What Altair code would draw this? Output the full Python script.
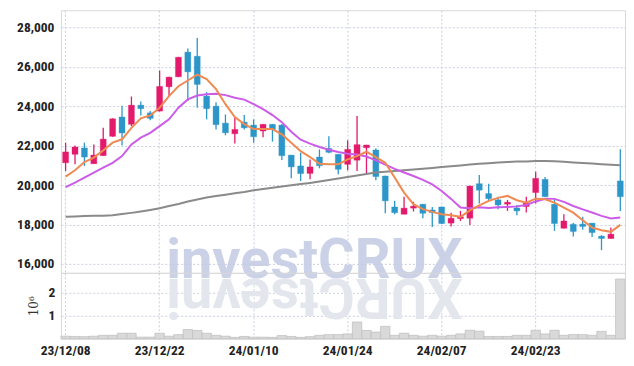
import altair as alt
import pandas as pd

dates = ["23/12/08", "23/12/11", "23/12/12", "23/12/13", "23/12/14", "23/12/15", "23/12/18", "23/12/19", "23/12/20", "23/12/21",
         "23/12/22", "23/12/26", "23/12/27", "23/12/28", "24/01/02", "24/01/03", "24/01/04", "24/01/05", "24/01/08", "24/01/09",
         "24/01/10", "24/01/11", "24/01/12", "24/01/15", "24/01/16", "24/01/17", "24/01/18", "24/01/19", "24/01/22", "24/01/23",
         "24/01/24", "24/01/25", "24/01/26", "24/01/29", "24/01/30", "24/01/31", "24/02/01", "24/02/02", "24/02/05", "24/02/06",
         "24/02/07", "24/02/08", "24/02/13", "24/02/14", "24/02/15", "24/02/16", "24/02/19", "24/02/20", "24/02/21", "24/02/22",
         "24/02/23", "24/02/26", "24/02/27", "24/02/28", "24/02/29", "24/03/04", "24/03/05", "24/03/06", "24/03/07", "24/03/08"]

opens = [21130, 21560, 21880, 21080, 21490, 22470, 23450, 23080, 24050, 23660,
         23750, 24980, 25490, 26740, 26530, 24510, 24000, 23140, 22600, 23190,
         23040, 22740, 23080, 23040, 21520, 20970, 20590, 21420, 21860, 21560,
         21050, 21260, 21890, 21780, 20460, 18890, 18520, 18830, 19030, 18740,
         18890, 18070, 18300, 18320, 20070, 19570, 19250, 19030, 18840, 18910,
         19620, 20290, 19030, 17810, 18020, 18020, 18070, 17410, 17290, 20210]
closes = [21680, 21930, 21420, 21520, 22330, 23360, 22640, 24050, 23870, 23380,
          25000, 25470, 26480, 25740, 25100, 23870, 23060, 22650, 22820, 22900,
          22450, 23080, 22820, 21490, 20920, 20580, 20920, 20980, 21660, 20800,
          21810, 22050, 22030, 20430, 19200, 18600, 18830, 18930, 18570, 18600,
          18050, 18320, 18390, 19950, 19740, 19310, 18990, 19130, 18690, 19100,
          20340, 19410, 18050, 18180, 17640, 17900, 17590, 17290, 17510, 19410]
highs = [22150, 22010, 22150, 22060, 22900, 23380, 24020, 24490, 24240, 23750,
         25810, 25490, 26500, 26920, 27460, 24710, 24200, 23580, 23410, 23550,
         23330, 23090, 23090, 23090, 21530, 21640, 21300, 21810, 22480, 21570,
         22270, 23500, 22040, 21860, 20470, 19200, 19410, 19150, 19040, 18890,
         18900, 18600, 18690, 19960, 20510, 20070, 19410, 19250, 18990, 19410,
         20680, 20410, 19280, 18520, 18080, 18390, 18080, 17460, 17850, 21810]
lows = [20710, 21050, 20970, 21080, 21490, 22450, 22010, 22990, 23530, 23280,
        23730, 24510, 25470, 24260, 23920, 23330, 22820, 22520, 22110, 22820,
        22150, 22430, 22200, 21270, 20340, 20210, 20290, 20850, 21610, 20550,
        20750, 20710, 20530, 20240, 18570, 18520, 18520, 18660, 18320, 17880,
        18030, 17900, 18180, 17980, 19060, 19160, 18780, 18690, 18470, 18610,
        19060, 19400, 17680, 17800, 17390, 17730, 17370, 16700, 17280, 18690]

ma5 = [20430, 20750, 21170, 21390, 21760, 22150, 22320, 22900, 23380, 23530,
       23920, 24510, 25010, 25300, 25600, 25370, 24860, 24100, 23450, 23090,
       22840, 22840, 22840, 22570, 22150, 21720, 21420, 21080, 21050, 21050,
       21300, 21470, 21690, 21420, 21130, 20380, 19620, 19030, 18780, 18640,
       18520, 18470, 18390, 18720, 18970, 19200, 19350, 19450, 19230, 19110,
       19310, 19280, 19110, 18860, 18600, 18220, 17850, 17710, 17630, 17980]
ma20 = [19900, 20120, 20380, 20630, 20880, 21130, 21470, 22060, 22400, 22650,
        22990, 23330, 23920, 24340, 24540, 24600, 24630, 24560, 24430, 24330,
        24100, 23850, 23550, 23190, 22700, 22300, 22100, 21930, 21790, 21680,
        21590, 21550, 21450, 21250, 21040, 20820, 20640, 20460, 20260, 20030,
        19700, 19300, 18860, 18830, 18870, 18840, 18870, 18890, 18920, 18990,
        19170, 19310, 19300, 19150, 18940, 18770, 18610, 18440, 18310, 18350]
ma60 = [18400, 18410, 18430, 18440, 18450, 18470, 18530, 18590, 18660, 18740,
        18830, 18940, 19040, 19170, 19270, 19370, 19450, 19510, 19580, 19650,
        19740, 19800, 19860, 19930, 19990, 20050, 20110, 20180, 20260, 20330,
        20410, 20490, 20560, 20640, 20670, 20710, 20750, 20790, 20830, 20870,
        20910, 20950, 20990, 21040, 21080, 21110, 21140, 21170, 21190, 21200,
        21220, 21220, 21210, 21180, 21150, 21120, 21090, 21060, 21030, 21000]

volume = [0.11, 0.10, 0.09, 0.11, 0.15, 0.15, 0.24, 0.24, 0.07, 0.07,
          0.24, 0.11, 0.18, 0.40, 0.36, 0.24, 0.15, 0.11, 0.06, 0.10,
          0.07, 0.07, 0.06, 0.14, 0.10, 0.06, 0.09, 0.15, 0.18, 0.18,
          0.21, 0.73, 0.36, 0.29, 0.54, 0.15, 0.24, 0.15, 0.11, 0.15,
          0.11, 0.15, 0.21, 0.37, 0.33, 0.10, 0.10, 0.10, 0.15, 0.15,
          0.37, 0.21, 0.37, 0.15, 0.18, 0.18, 0.15, 0.32, 0.15, 2.60]

x_labels = ["23/12/08", "23/12/22", "24/01/10", "24/01/24", "24/02/07", "24/02/23"]
price_ticks = [16000, 18000, 20000, 22000, 24000, 26000, 28000]
vol_ticks = [1, 2]
watermark = "investCRUX"

RED = "#e3196b"
BLUE = "#2d96c9"
LABEL_FONT = "Roboto Condensed, Liberation Sans, sans-serif"

df = pd.DataFrame(dict(date=dates, open=opens, high=highs, low=lows, close=closes,
                       ma5=ma5, ma20=ma20, ma60=ma60, vol=volume))
df["dir"] = ["up" if c >= o else "down" for o, c in zip(opens, closes)]

xscale = alt.Scale(domain=dates, paddingInner=0, paddingOuter=0)
x_top = alt.X("date:O", scale=xscale,
              axis=alt.Axis(values=x_labels, labels=False, ticks=False, domain=False,
                            grid=True, bandPosition=0.5, title=None))
yscale = alt.Scale(domain=[15550, 28860], nice=False, zero=False)
y_axis = alt.Axis(values=price_ticks, format=",.0f", title=None, ticks=False, domain=False,
                  labelPadding=7, grid=True)
dir_scale = alt.Scale(domain=["up", "down"], range=[RED, BLUE])
color = alt.Color("dir:N", scale=dir_scale, legend=None)

base = alt.Chart(df)
wicks = base.mark_rule(strokeWidth=1.3).encode(
    x=x_top, y=alt.Y("low:Q", scale=yscale, axis=y_axis), y2="high:Q", color=color)
bodies = base.mark_bar(size=6, strokeWidth=1, strokeOpacity=0.35).encode(
    x=x_top, y=alt.Y("open:Q", scale=yscale, axis=y_axis), y2="close:Q", color=color,
    stroke=alt.Stroke("dir:N", scale=dir_scale, legend=None))
l60 = base.mark_line(color="#8a8a8a", strokeWidth=2).encode(x=x_top, y=alt.Y("ma60:Q", scale=yscale, axis=y_axis))
l20 = base.mark_line(color="#cc5ce8", strokeWidth=2).encode(x=x_top, y=alt.Y("ma20:Q", scale=yscale, axis=y_axis))
l5 = base.mark_line(color="#ef8a52", strokeWidth=2).encode(x=x_top, y=alt.Y("ma5:Q", scale=yscale, axis=y_axis))

wm_df = pd.DataFrame({"t": [watermark]})
wm = alt.Chart(wm_df).mark_text(font="Roboto", fontWeight="bold", fontSize=56, color="#c3cbe4",
                                opacity=0.85, baseline="alphabetic", align="center").encode(
    text="t:N", x=alt.value(254), y=alt.value(268))

top = alt.layer(wm, wicks, bodies, l60, l20, l5).properties(width=565, height=263)

x_bot = alt.X("date:O", scale=xscale,
              axis=alt.Axis(values=x_labels, labelAngle=0, ticks=False, domain=False, grid=True,
                            bandPosition=0.5, title=None, labelPadding=5, labelOverlap=False))
vol_bars = alt.Chart(df).mark_bar(fill="#d9d9d9", stroke="#c2c2c2", strokeWidth=0.8).encode(
    x=x_bot,
    y=alt.Y("vol:Q", scale=alt.Scale(domain=[0, 2.87], nice=False),
            axis=alt.Axis(values=vol_ticks, title="10⁶", ticks=False, domain=False, labelPadding=6,
                          titleFont="DejaVu Serif", titleFontWeight="normal", titleFontSize=12,
                          titleColor="#333", titlePadding=8)))
refl_df = pd.DataFrame({"t": [watermark[::-1]]})
refl = alt.Chart(refl_df).mark_text(font="Roboto", fontWeight="bold", fontSize=56, color="#e4e6ee",
                                    baseline="alphabetic", align="center", angle=180).encode(
    text="t:N", x=alt.value(254), y=alt.value(6))
bottom = alt.layer(refl, vol_bars).properties(width=565, height=66)

chart = alt.vconcat(top, bottom, spacing=0, bounds="flush").properties(
    padding={"left": 8, "top": 1, "right": 0, "bottom": 0}
).configure_view(stroke="#d9d9d9").configure_axis(
    labelFont=LABEL_FONT, labelFontSize=13.5, labelFontWeight="bold", labelColor="#222",
    gridColor="#c9cee0", gridDash=[2, 2], gridWidth=1
)

chart.save("out.html", embed_options={"renderer": "svg", "actions": False})
